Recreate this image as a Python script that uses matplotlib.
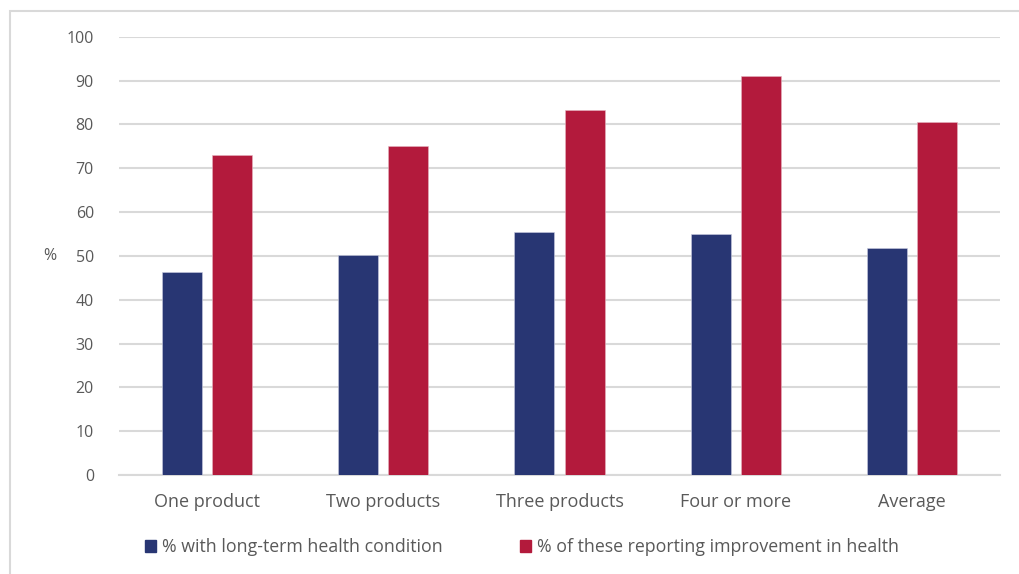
import matplotlib
matplotlib.use("Agg")
import matplotlib.pyplot as plt
from matplotlib.patches import Rectangle, Patch
import numpy as np

categories = ["One product", "Two products", "Three products", "Four or more", "Average"]
long_term = [46.4, 50.1, 55.5, 55.0, 51.7]
improved = [73.0, 75.1, 83.3, 91.0, 80.5]
series_names = ["% with long-term health condition",
                "% of these reporting improvement in health"]
yticks = [0, 10, 20, 30, 40, 50, 60, 70, 80, 90, 100]

BLUE = "#283673"
RED = "#B31A3C"
TXT = "#595959"
GRID = "#D9D9D9"

plt.rcParams["font.family"] = ["Open Sans", "DejaVu Sans"]

fig = plt.figure(figsize=(10.19, 5.74), dpi=100)
fig.patches.append(Rectangle((10 / 1019, -0.1), 1.2, (574 - 11) / 574 + 0.1,
                             transform=fig.transFigure, fill=False,
                             edgecolor="#D9D9D9", linewidth=1.5))

ax = fig.add_axes([119 / 1019, 1 - 475 / 574, (1000 - 119) / 1019, (475 - 36.7) / 574])

x = np.arange(len(categories))
w = 0.227
gap = 0.057
ax.bar(x - (w + gap) / 2, long_term, w, color=BLUE, edgecolor="#C9CCE0",
       linewidth=0.4, zorder=3)
ax.bar(x + (w + gap) / 2, improved, w, color=RED, edgecolor="#E6B5C0",
       linewidth=0.4, zorder=3)

ax.set_xlim(-0.5, len(categories) - 0.5)
ax.set_ylim(0, 100)
ax.set_yticks(yticks)
ax.set_yticklabels([str(t) for t in yticks], fontsize=11.5, color=TXT)
ax.set_xticks(x)
ax.set_xticklabels(categories, fontsize=13, color=TXT)
ax.tick_params(axis="both", length=0)
ax.tick_params(axis="y", pad=18)
ax.tick_params(axis="x", pad=13)
ax.yaxis.grid(True, color=GRID, linewidth=1.5, zorder=0)
ax.set_axisbelow(True)
for s in ["top", "right", "left"]:
    ax.spines[s].set_visible(False)
ax.spines["bottom"].set_color(GRID)
ax.spines["bottom"].set_linewidth(1.5)

fig.text(50 / 1019, 1 - 256 / 574, "%", fontsize=11.5, color=TXT,
         ha="center", va="center")

handles = [Patch(facecolor=BLUE, edgecolor=BLUE), Patch(facecolor=RED, edgecolor=RED)]
fig.legend(handles, series_names, loc="center", ncol=2,
           bbox_to_anchor=(522 / 1019, 1 - 547 / 574), frameon=False,
           fontsize=12.8, labelcolor=TXT, handlelength=0.62, handleheight=0.62,
           handletextpad=0.35, columnspacing=4.3)

fig.savefig("out.png", dpi=100, facecolor="white")
